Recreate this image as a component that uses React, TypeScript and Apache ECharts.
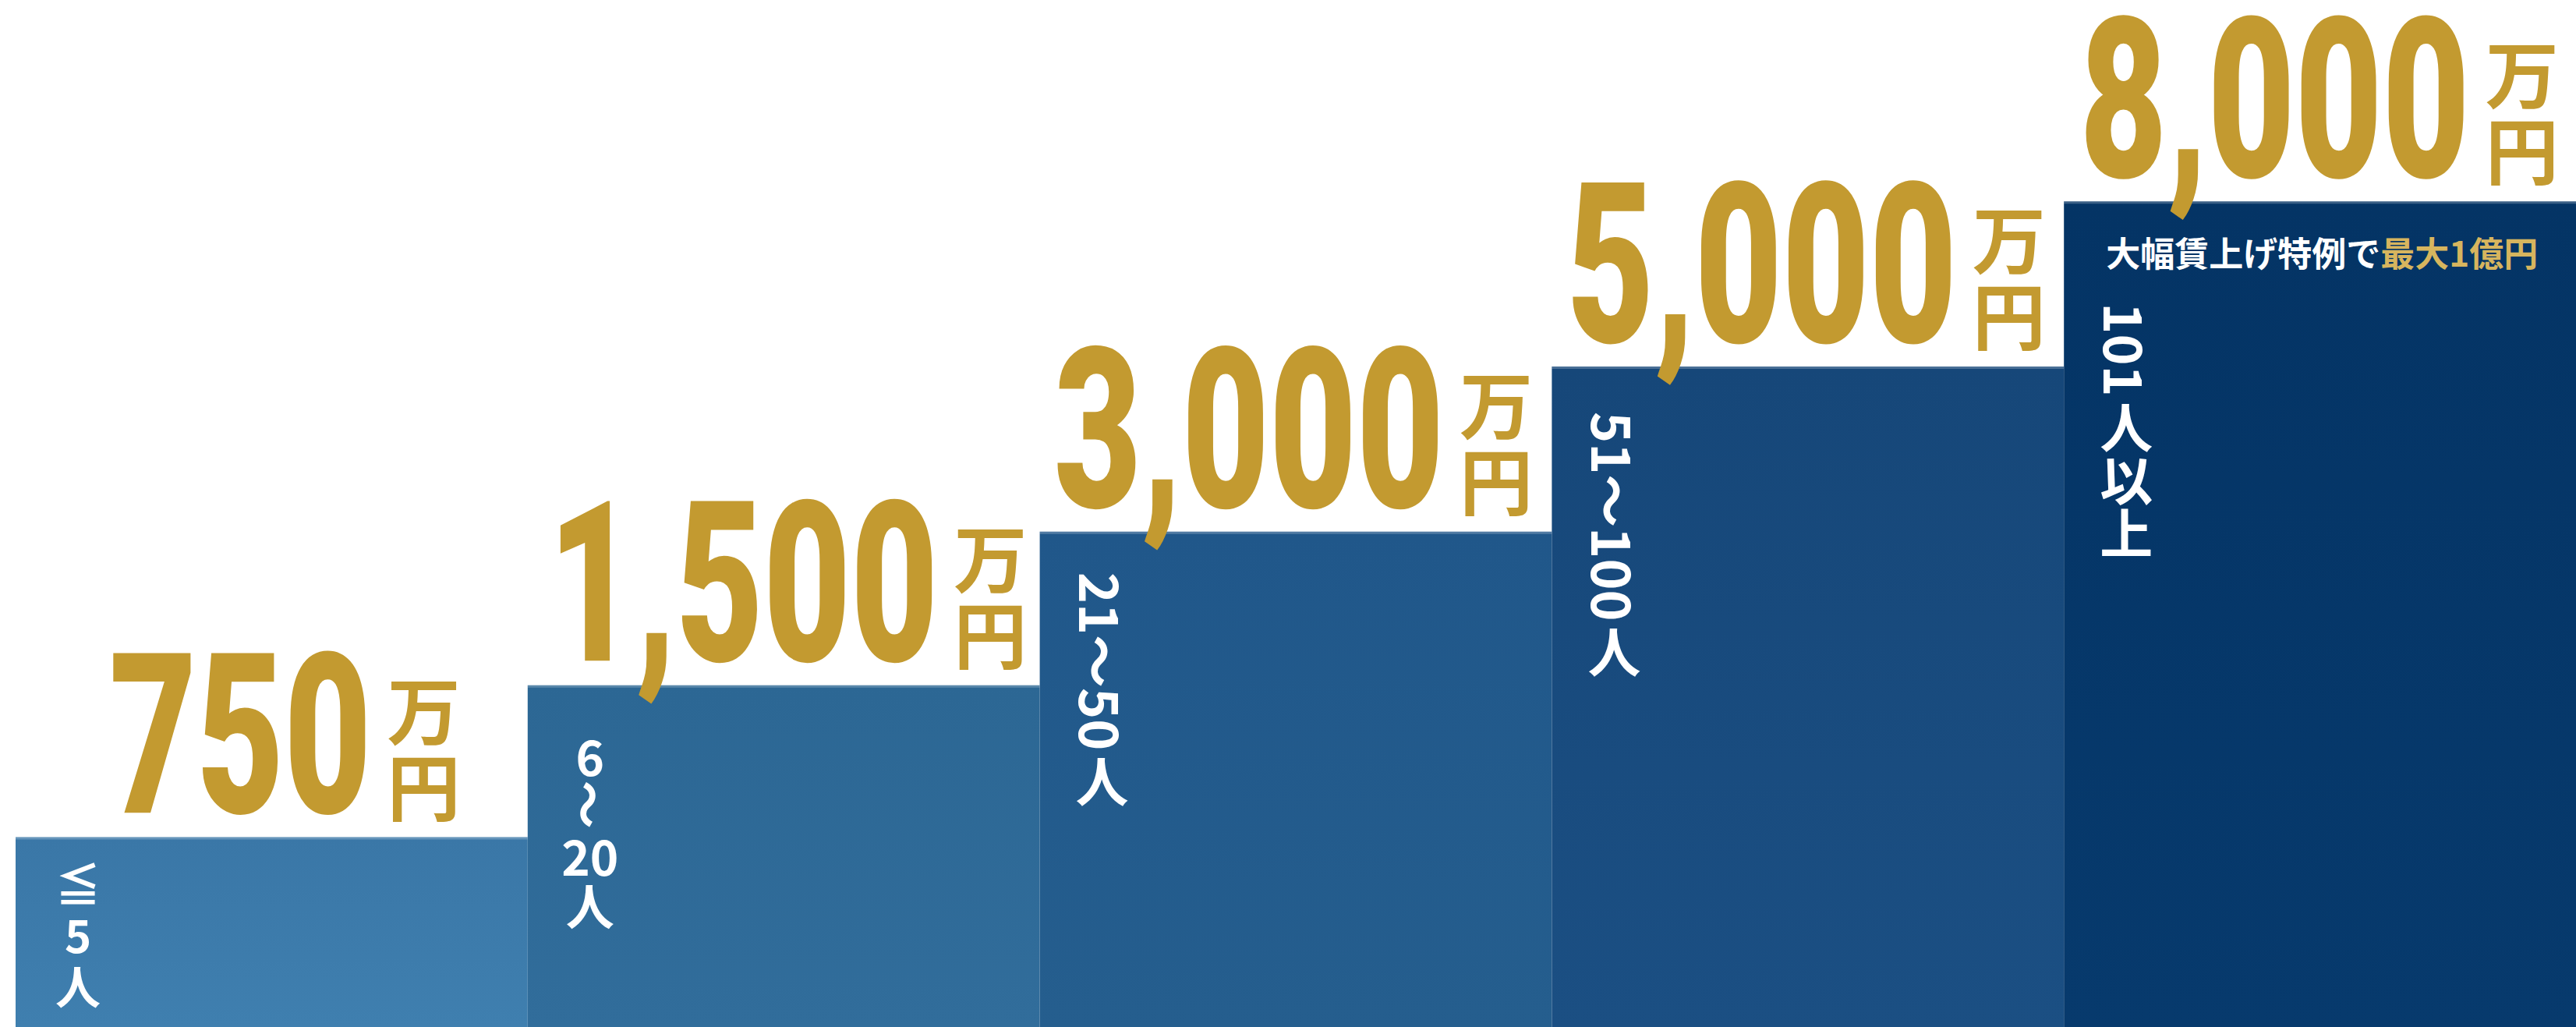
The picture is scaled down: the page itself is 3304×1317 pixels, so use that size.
import React, { useEffect, useRef } from "react";
import * as echarts from "echarts";

// ---------- data ----------
const categories = ["≦5人", "6〜20人", "21〜50人", "51〜100人", "101人以上"];
const amounts = [750, 1500, 3000, 5000, 8000]; // 万円
const unitTop = "万";
const unitBottom = "円";
// visual step levels of the staircase (last step = 10)
const stepLevels = [2.3, 4.14, 6.0, 8.0, 10.0];
const captionPlain = ["", "", "", "", "大幅賃上げ特例で"];
const captionHighlight = ["", "", "", "", "最大1億円"];
const Y_MAX = 12.44;

// ---------- styles ----------
const barTopColors = ["#3A77A7", "#2C6794", "#20578A", "#164779", "#043465"];
const barBottomColors = ["#3F7FAF", "#316D9B", "#255E8E", "#1B4F83", "#073A6D"];
const GOLD = "#C39A30";
const CAPTION_GOLD = "#D7B55E";
const NUM_FONT = "Roboto";
const NUM_WEIGHT = 900;
const JP_FONT = "Noto Sans CJK JP";
const AMT_SIZE = 288;
const DIGIT_ADVANCE = 112;
const UNIT_SIZE = 94;
const UNIT_GAP = 20;
const amountShift = [17, 5, -3, -2, -1];
const labelFontSize = [58, 62, 68, 68, 68];
const labelPitch = [66, 64, 68, 68, 68];
const labelStart = [24, 57, 52, 58, 130];
const uprightDigits = [true, true, false, false, false];
const LABEL_WEIGHT = "bold";

let measureCtx: CanvasRenderingContext2D | null = null;
function measure(text: string, size: number, weight: string | number, family: string): number {
  if (!measureCtx) measureCtx = document.createElement("canvas").getContext("2d");
  if (!measureCtx) return text.length * size * 0.6;
  measureCtx.font = `${weight} ${size}px "${family}"`;
  return measureCtx.measureText(text).width;
}

// Split a label into vertical-writing pieces: upright stacks (one line per glyph /
// digit group) and sideways runs (rotated clockwise).
function splitVertical(text: string, upright: boolean) {
  const pieces: { kind: "stack" | "rot"; lines: string[] }[] = [];
  const pushLine = (l: string) => {
    const last = pieces[pieces.length - 1];
    if (last && last.kind === "stack") last.lines.push(l);
    else pieces.push({ kind: "stack", lines: [l] });
  };
  let i = 0;
  while (i < text.length) {
    const c = text[i];
    if (upright) {
      if (/[0-9]/.test(c)) {
        let j = i;
        while (j < text.length && /[0-9]/.test(text[j])) j++;
        pushLine(text.slice(i, j));
        i = j;
      } else if (c === "〜") {
        pieces.push({ kind: "rot", lines: [c] });
        i++;
      } else {
        pushLine(c);
        i++;
      }
    } else {
      if (/[0-9A-Za-z〜~]/.test(c)) {
        let j = i;
        while (j < text.length && /[0-9A-Za-z〜~]/.test(text[j])) j++;
        pieces.push({ kind: "rot", lines: [text.slice(i, j)] });
        i = j;
      } else {
        pushLine(c);
        i++;
      }
    }
  }
  return pieces;
}

function verticalLabel(text: string, cx: number, top: number, fs: number, pitch: number, upright: boolean) {
  const els: any[] = [];
  let y = top;
  const base = { fill: "#ffffff", fontSize: fs, fontFamily: JP_FONT, fontWeight: LABEL_WEIGHT };
  for (const piece of splitVertical(text, upright)) {
    if (piece.kind === "stack") {
      els.push({
        type: "text",
        x: cx,
        y,
        style: {
          ...base,
          text: piece.lines.join("\n"),
          lineHeight: pitch,
          align: "center",
          verticalAlign: "top",
        },
      });
      y += pitch * piece.lines.length;
    } else if (upright) {
      // single sideways glyph inside an upright stack (wave dash)
      els.push({
        type: "text",
        x: cx,
        y: y + pitch / 2,
        rotation: -Math.PI / 2,
        style: { ...base, text: piece.lines[0], lineHeight: fs * 0.8, align: "center", verticalAlign: "middle" },
      });
      y += pitch;
    } else {
      const run = piece.lines[0];
      const w = measure(run, fs, LABEL_WEIGHT, JP_FONT);
      els.push({
        type: "text",
        x: cx,
        y,
        rotation: -Math.PI / 2,
        style: { ...base, text: run, lineHeight: fs, align: "left", verticalAlign: "middle" },
      });
      y += w + 2;
    }
  }
  return els;
}

export default function App() {
  const ref = useRef<HTMLDivElement>(null);

  useEffect(() => {
    document.body.style.margin = "0";
    if (!ref.current) return;
    const chart = echarts.init(ref.current, undefined, { renderer: "svg" });
    const sx = DIGIT_ADVANCE / measure("0", AMT_SIZE, NUM_WEIGHT, NUM_FONT);

    const option: any = {
      animation: false,
      backgroundColor: "#ffffff",
      grid: { left: 20, right: -16, top: 0, bottom: 0, containLabel: false },
      xAxis: { type: "category", data: categories, show: false, boundaryGap: true },
      yAxis: { type: "value", min: 0, max: Y_MAX, show: false },
      series: [
        {
          type: "bar",
          barWidth: "100%",
          barCategoryGap: "0%",
          silent: true,
          data: stepLevels.map((v, i) => ({
            value: v,
            itemStyle: {
              color: new echarts.graphic.LinearGradient(0, 0, 0, 1, [
                { offset: 0, color: barTopColors[i] },
                { offset: 1, color: barBottomColors[i] },
              ]),
            },
          })),
          z: 2,
        },
        {
          type: "custom",
          z: 3,
          silent: true,
          data: stepLevels.map((v, i) => [i, v]),
          renderItem: (params: any, api: any) => {
            const i = api.value(0) as number;
            const v = api.value(1) as number;
            const p = api.coord([i, v]);
            const w = api.size([1, 0])[0];
            const left = p[0] - w / 2;
            const top = p[1];
            const cx = p[0];
            const children: any[] = [];

            children.push({
              type: "rect",
              shape: { x: left, y: top, width: w, height: 3 },
              style: { fill: "rgba(255,255,255,0.22)" },
            });

            const amtText = amounts[i].toLocaleString("en-US");
            const digitW = measure(amtText, AMT_SIZE, NUM_WEIGHT, NUM_FONT) * sx;
            const unitW = measure(unitBottom, UNIT_SIZE, "bold", JP_FONT);
            const total = digitW + UNIT_GAP + unitW;
            const gx = cx - total / 2 + amountShift[i];
            children.push({
              type: "text",
              x: gx,
              y: top - 130,
              scaleX: sx,
              style: {
                text: amtText,
                fill: GOLD,
                fontFamily: NUM_FONT,
                fontWeight: NUM_WEIGHT,
                fontSize: AMT_SIZE,
                lineHeight: 210,
                align: "left",
                verticalAlign: "middle",
              },
            });
            const ux = gx + digitW + UNIT_GAP;
            children.push({
              type: "text",
              x: ux,
              y: top - 216,
              style: {
                text: unitTop + "\n" + unitBottom,
                fill: GOLD,
                fontFamily: JP_FONT,
                fontWeight: "bold",
                fontSize: UNIT_SIZE,
                lineHeight: 98,
                align: "left",
                verticalAlign: "top",
              },
            });

            if (captionPlain[i] || captionHighlight[i]) {
              const cxp = left + 54;
              const cy = top + 65;
              const pw = measure(captionPlain[i], 44, "bold", JP_FONT);
              const capStyle = {
                fontFamily: JP_FONT,
                fontWeight: "bold",
                fontSize: 44,
                lineHeight: 48,
                align: "left",
                verticalAlign: "middle",
              };
              children.push({
                type: "text",
                x: cxp,
                y: cy,
                style: { ...capStyle, text: captionPlain[i], fill: "#ffffff" },
              });
              children.push({
                type: "text",
                x: cxp + pw,
                y: cy,
                style: { ...capStyle, text: captionHighlight[i], fill: CAPTION_GOLD },
              });
            }

            const lbl = verticalLabel(
              categories[i],
              left + 80,
              top + labelStart[i],
              labelFontSize[i],
              labelPitch[i],
              uprightDigits[i]
            );
            children.push(...lbl);

            return { type: "group", children };
          },
        },
      ],
    };
    chart.setOption(option);
    return () => chart.dispose();
  }, []);

  return (
    <div
      ref={ref}
      style={{ position: "absolute", left: 0, top: 0, width: 3304, height: 1317, overflow: "hidden" }}
    />
  );
}
